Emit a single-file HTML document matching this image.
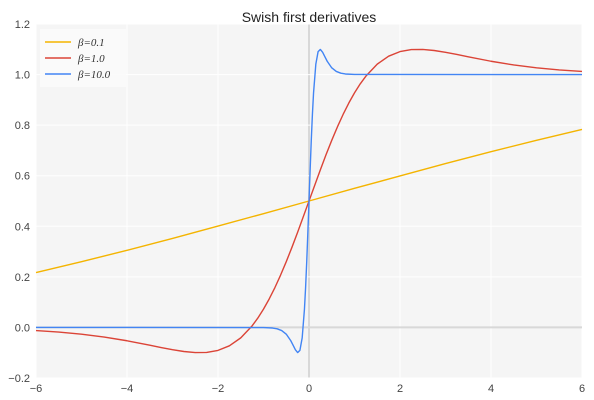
<!DOCTYPE html>
<html><head><meta charset="utf-8"><style>
body{margin:0;background:#fff;}
svg{display:block;font-family:"Liberation Sans",sans-serif;}
</style></head><body>
<svg id="chart" width="594" height="400">
<rect x="36" y="24" width="546" height="354" fill="#f5f5f5"/>
<g id="grid"></g>
<g id="ticks"></g>
<g id="series"></g>
<text x="309" y="22" text-anchor="middle" font-size="14" fill="#222">Swish first derivatives</text>
<g id="legend">
<rect x="40" y="29" width="86" height="58" fill="#fbfbfb" opacity="0.9"/>
</g>
</svg>
<script>
const xTicks=[-6,-4,-2,0,2,4,6];
const yTicks=[-0.2,0,0.2,0.4,0.6,0.8,1.0,1.2];
const seriesNames=["β=0.1","β=1.0","β=10.0"];
const seriesColors=["#f4b400","#db4437","#4285f4"];
const x01=[-6,-5,-4,-3,-2,-1,0,1,2,3,4,5,6];
const y01=[0.217,0.260,0.305,0.352,0.401,0.450,0.5,0.550,0.599,0.648,0.695,0.740,0.783];
const x1=[-6,-5.5,-5,-4.5,-4,-3.5,-3.25,-3,-2.75,-2.5,-2.25,-2,-1.75,-1.5,-1.25,-1.125,-1,-0.875,-0.75,-0.625,-0.5,-0.375,-0.25,0,0.25,0.375,0.5,0.625,0.75,0.875,1,1.125,1.25,1.5,1.75,2,2.25,2.5,2.75,3,3.25,3.5,4,4.5,5,5.5,6];
const y1=[-0.0123,-0.0182,-0.0266,-0.038,-0.0527,-0.0704,-0.0794,-0.0881,-0.0952,-0.0994,-0.0987,-0.0908,-0.0727,-0.0413,0.0063,0.0369,0.0723,0.1125,0.1574,0.2067,0.260,0.3168,0.3763,0.5,0.6237,0.6832,0.740,0.7933,0.8426,0.8875,0.9277,0.9631,0.9937,1.0413,1.0727,1.0908,1.0987,1.0994,1.0952,1.0881,1.0794,1.0704,1.0527,1.038,1.0266,1.0182,1.0123];
const x10=[-6,-1,-0.8,-0.7,-0.6,-0.5,-0.4,-0.35,-0.3,-0.25,-0.2,-0.15,-0.1,-0.075,-0.05,-0.025,0,0.025,0.05,0.075,0.1,0.15,0.2,0.25,0.3,0.35,0.4,0.5,0.6,0.7,0.8,1,6];
const y10=[0,-0.0005,-0.0023,-0.0055,-0.0123,-0.0266,-0.0527,-0.0704,-0.0881,-0.0994,-0.0908,-0.0413,0.0723,0.1574,0.260,0.3763,0.5,0.6237,0.740,0.8426,0.9277,1.0413,1.0908,1.0994,1.0881,1.0704,1.0527,1.0266,1.0123,1.0055,1.0023,1.0005,1.0];
const NS="http://www.w3.org/2000/svg";
const X0=36,X1=582,Y0=378,Y1=24;
const sx=v=>X0+(v+6)/12*(X1-X0);
const sy=v=>Y0-(v+0.2)/1.4*(Y0-Y1);
function mk(tag,attrs,parent){const e=document.createElementNS(NS,tag);for(const k in attrs)e.setAttribute(k,attrs[k]);parent.appendChild(e);return e;}
const grid=document.getElementById('grid'),ticks=document.getElementById('ticks'),series=document.getElementById('series'),legend=document.getElementById('legend');
xTicks.forEach(t=>{
 const l=mk('line',{x1:sx(t),x2:sx(t),y1:Y1,y2:Y0,stroke:t===0?'#d8d8d8':'#fff','stroke-width':t===0?2:1},grid);
 
 
 const tx=mk('text',{x:sx(t),y:Y0+14,'text-anchor':'middle','font-size':11,fill:'#444'},ticks);
 tx.textContent=(t<0?'−':'')+Math.abs(t);
 
 
});
yTicks.forEach(t=>{
 const z=Math.abs(t)<1e-9;
 const l=mk('line',{x1:X0,x2:X1,y1:sy(t),y2:sy(t),stroke:z?'#d8d8d8':'#fff','stroke-width':z?2:1},grid);
 
 
 const tx=mk('text',{x:X0-6,y:sy(t)+4,'text-anchor':'end','font-size':11,fill:'#444'},ticks);
 tx.textContent=(t<0?'−':'')+Math.abs(t).toFixed(1);
 
 
});
[[x01,y01],[x1,y1],[x10,y10]].forEach((s,i)=>{
 const pts=s[0].map((x,j)=>sx(x).toFixed(2)+','+sy(s[1][j]).toFixed(2)).join(' ');
 const p=mk('polyline',{points:pts,fill:'none',stroke:seriesColors[i],'stroke-width':1.4,'stroke-linejoin':'round'},series);
 
 
 const y=42+i*16;
 const ll=mk('line',{x1:45,x2:71,y1:y,y2:y,stroke:seriesColors[i],'stroke-width':1.4},legend);
 
 
 const lt=mk('text',{x:78,y:y+4,'font-size':11,fill:'#333','font-family':'"Liberation Serif",serif','font-style':'italic'},legend);
 lt.textContent=seriesNames[i];
 
 
});
</script>
</body></html>
